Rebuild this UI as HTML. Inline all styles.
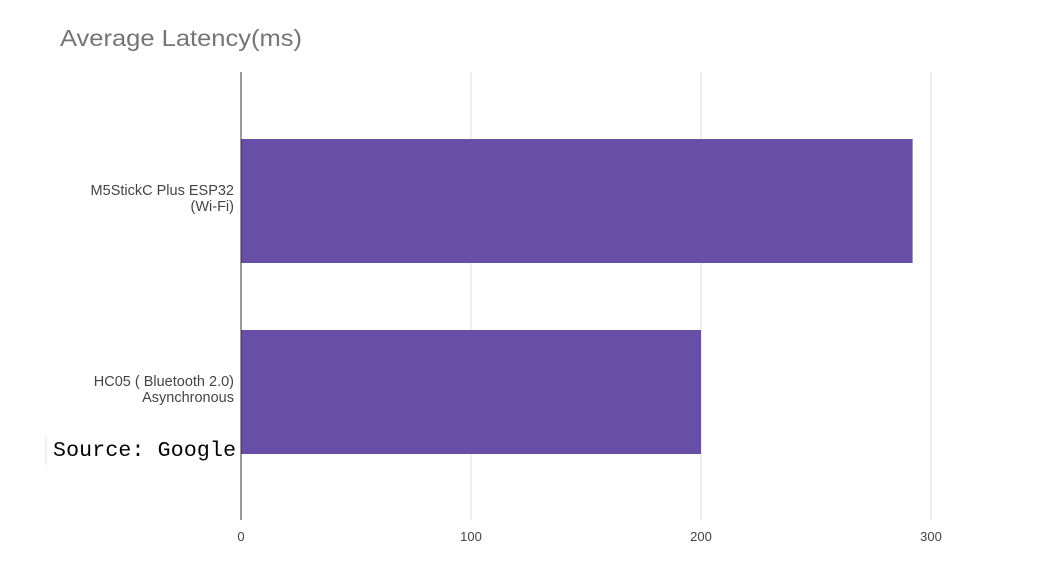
<!DOCTYPE html>
<html><head><meta charset="utf-8"><style>
html,body{margin:0;padding:0;background:#fff;width:1042px;height:583px;overflow:hidden}
svg text{font-family:"Liberation Sans",Arial,sans-serif}
</style></head><body>
<svg id="chart" width="1042" height="583" xmlns="http://www.w3.org/2000/svg">
<text x="60" y="46" font-size="23" textLength="242" lengthAdjust="spacingAndGlyphs" fill="#757575">Average Latency(ms)</text>
<g id="grid"></g>
<g id="bars"></g>
<g id="labels"></g>
<line x1="241" y1="72" x2="241" y2="520" stroke="#333" stroke-width="1"/>
<rect x="45" y="436" width="192" height="29" fill="#fff"/>
<line x1="46" y1="437" x2="46" y2="465" stroke="#ddd" stroke-width="1"/>
<text x="53" y="456" font-size="21.5" textLength="183" fill="#000" style='font-family:"Liberation Mono",monospace'>Source: Google</text>
</svg>
<script>
const categories = [["M5StickC Plus ESP32","(Wi-Fi)"],["HC05 ( Bluetooth 2.0)","Asynchronous"]];
const values = [292, 200];
const ticks = [0, 100, 200, 300];
const NS = "http://www.w3.org/2000/svg";
const x = v => 241 + v * 2.3;
const y = i => 201 + 191 * i;
const grid = document.getElementById('grid'), bars = document.getElementById('bars'), labels = document.getElementById('labels');
ticks.forEach(t => {
  if (t !== 0) {
    const l = document.createElementNS(NS, 'line');
    l.setAttribute('x1', x(t)); l.setAttribute('x2', x(t)); l.setAttribute('y1', 72); l.setAttribute('y2', 520);
    l.setAttribute('stroke', '#dcdcdc');
    
    
    grid.appendChild(l);
  }
  const tx = document.createElementNS(NS, 'text');
  tx.setAttribute('x', x(t)); tx.setAttribute('y', 541); tx.setAttribute('font-size', 13);
  tx.setAttribute('fill', '#444'); tx.setAttribute('text-anchor', 'middle');
  tx.textContent = t;
  
  
  labels.appendChild(tx);
});
values.forEach((v, i) => {
  const yc = y(i);
  const r = document.createElementNS(NS, 'rect');
  r.setAttribute('x', x(0)); r.setAttribute('y', yc - 62); r.setAttribute('width', x(v) - x(0)); r.setAttribute('height', 124);
  r.setAttribute('fill', '#674ea7');
  
  
  bars.appendChild(r);
  categories[i].forEach((line, j) => {
    const t = document.createElementNS(NS, 'text');
    t.setAttribute('x', 234); t.setAttribute('y', yc - 6 + j * 16); t.setAttribute('font-size', 14.5);
    t.setAttribute('fill', '#444'); t.setAttribute('text-anchor', 'end');
    t.textContent = line;
    
    
    labels.appendChild(t);
  });
});
</script>
</body></html>
